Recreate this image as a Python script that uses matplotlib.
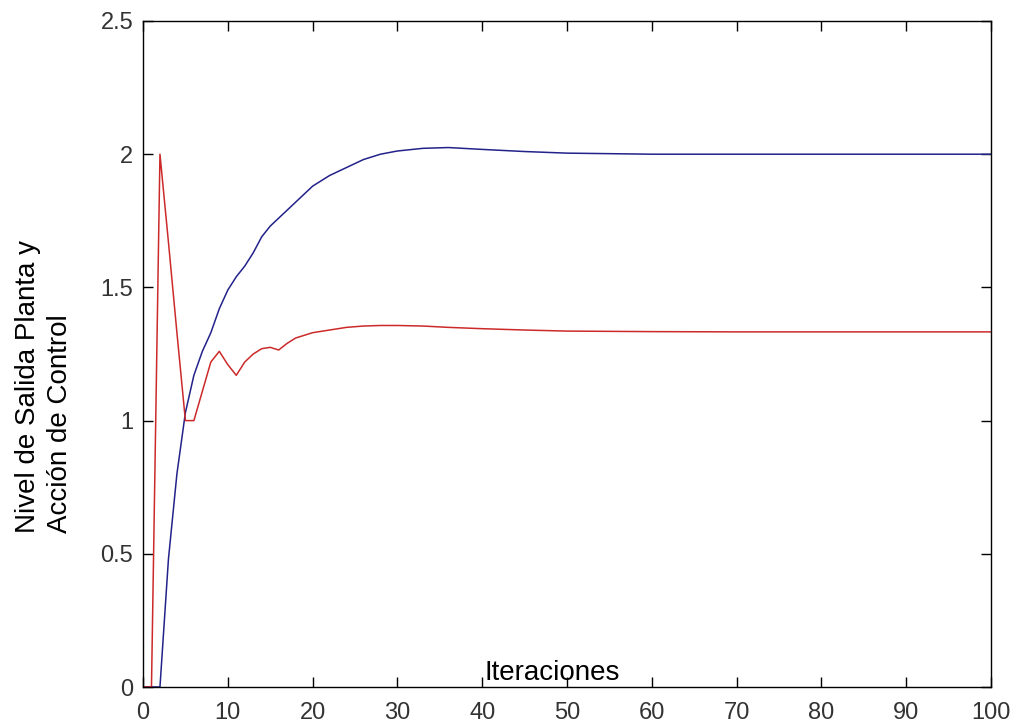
import matplotlib
matplotlib.use("Agg")
import matplotlib.pyplot as plt

plt.rcParams['font.family'] = ['Liberation Sans', 'DejaVu Sans']

# iteraciones de la simulacion
k = [0, 1, 2, 3, 4, 5, 6, 7, 8, 9, 10, 11, 12, 13, 14, 15, 16, 17, 18, 19, 20,
     21, 22, 24, 26, 28, 30, 33, 36, 40, 45, 50, 55, 60, 70, 80, 90, 100]

# salida de la planta (azul)
salida = [0, 0, 0, 0.48, 0.80, 1.03, 1.17, 1.26, 1.33, 1.42, 1.49, 1.54, 1.58,
          1.63, 1.69, 1.73, 1.76, 1.79, 1.82, 1.85, 1.88, 1.90, 1.92, 1.95,
          1.98, 2.0, 2.012, 2.022, 2.025, 2.018, 2.01, 2.004, 2.002, 2.0, 2.0,
          2.0, 2.0, 2.0]

# accion de control (rojo)
control = [0, 0, 2.0, 1.67, 1.33, 1.0, 1.0, 1.11, 1.22, 1.26, 1.21, 1.17, 1.22,
           1.25, 1.27, 1.275, 1.265, 1.29, 1.31, 1.32, 1.33, 1.335, 1.34, 1.35,
           1.355, 1.357, 1.357, 1.355, 1.35, 1.345, 1.34, 1.336, 1.335, 1.334,
           1.333, 1.333, 1.333, 1.333]

xt = [0, 10, 20, 30, 40, 50, 60, 70, 80, 90, 100]
yt = [0, 0.5, 1, 1.5, 2, 2.5]
yt_lab = ['0', '0.5', '1', '1.5', '2', '2.5']

fig = plt.figure(figsize=(10.19, 7.26), dpi=100)
ax = fig.add_axes([143/1019, 39/726, 848/1019, 666/726])

ax.plot(k, salida, color='#22228a', lw=1.1)
ax.plot(k, control, color='#cc2a2a', lw=1.1)

ax.set_xlim(0, 100)
ax.set_ylim(0, 2.5)
ax.set_xticks(xt)
ax.set_yticks(yt)
ax.set_yticklabels(yt_lab)
ax.tick_params(direction='in', top=True, right=True, length=7.5, width=1,
               labelsize=17, labelcolor='#333333')
ax.tick_params(axis='x', pad=11)
ax.tick_params(axis='y', pad=7)
for s in ax.spines.values():
    s.set_linewidth(1.0)

ax.text(0.482, 0.0105, 'Iteraciones', transform=ax.transAxes,
        ha='center', va='baseline', fontsize=20)

fig.text(0.043, 0.467, 'Nivel de Salida Planta y\nAcción de Control',
         rotation=90, ha='center', va='center', multialignment='left',
         fontsize=20, linespacing=1.3)

fig.savefig('out.png', dpi=100)
